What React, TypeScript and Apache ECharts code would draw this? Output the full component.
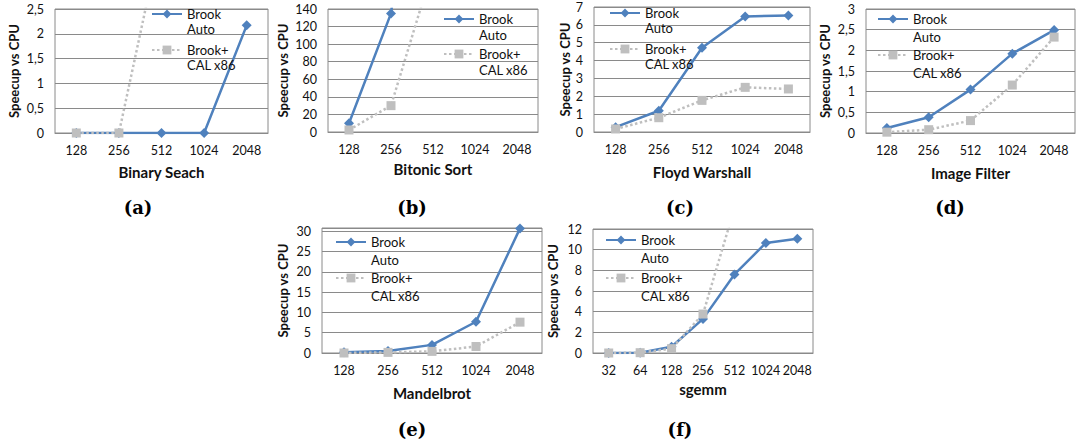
import React, { useEffect, useRef } from 'react';
import * as echarts from 'echarts';

// ---- data ----
const sizes5 = ['128', '256', '512', '1024', '2048'];
const sizesSgemm = ['32', '64', '128', '256', '512', '1024', '2048'];

const binaryAuto = [0, 0, 0, 0, 2.17];
const binaryCal = [0, 0, 4, 5, 6];
const bitonicAuto = [10, 135, 500, 900, 1500];
const bitonicCal = [2.3, 30, 187, 400, 800];
const floydAuto = [0.27, 1.19, 4.72, 6.47, 6.53];
const floydCal = [0.17, 0.8, 1.77, 2.5, 2.41];
const imageAuto = [0.12, 0.38, 1.05, 1.92, 2.49];
const imageCal = [0.02, 0.08, 0.3, 1.16, 2.32];
const mandelAuto = [0.16, 0.5, 2.0, 7.7, 30.7];
const mandelCal = [0.0, 0.15, 0.4, 1.6, 7.6];
const sgemmAuto = [0, 0.03, 0.6, 3.3, 7.6, 10.65, 11.06];
const sgemmCal = [0, 0.03, 0.42, 3.77, 14, 25, 40];

const seriesNames = ['Brook Auto', 'Brook+ CAL x86'];
const legendText: Record<string, string> = {
  'Brook Auto': '\nBrook\nAuto',
  'Brook+ CAL x86': '\nBrook+\nCAL x86',
};

// ---- layout ----
const panels = [
  { cats: sizes5, auto: binaryAuto, cal: binaryCal, title: 'Binary Seach', max: 2.5, interval: 0.5,
    grid: { left: 55, top: 9, width: 213, height: 124 }, yGap: 35, xGap: 31,
    leg: { left: 151, y1: 14, y2: 50, lh: 15 }, tag: '(a)', tagPos: [138, 207] },
  { cats: sizes5, auto: bitonicAuto, cal: bitonicCal, title: 'Bitonic Sort', max: 140, interval: 20,
    grid: { left: 328, top: 9, width: 210, height: 123 }, yGap: 39, xGap: 29,
    leg: { left: 443, y1: 19, y2: 54, lh: 16 }, tag: '(b)', tagPos: [412, 207] },
  { cats: sizes5, auto: floydAuto, cal: floydCal, title: 'Floyd Warshall', max: 7, interval: 1,
    grid: { left: 594, top: 7, width: 216, height: 125 }, yGap: 23, xGap: 32,
    leg: { left: 609, y1: 13, y2: 49, lh: 15 }, tag: '(c)', tagPos: [680, 207] },
  { cats: sizes5, auto: imageAuto, cal: imageCal, title: 'Image Filter', max: 3, interval: 0.5,
    grid: { left: 866, top: 9, width: 209, height: 124 }, yGap: 35, xGap: 32,
    leg: { left: 877, y1: 19, y2: 55, lh: 18 }, tag: '(d)', tagPos: [950, 207] },
  { cats: sizes5, auto: mandelAuto, cal: mandelCal, title: 'Mandelbrot', max: 30.8, interval: 5,
    grid: { left: 322, top: 228, width: 220, height: 125 }, yGap: 33, xGap: 32,
    leg: { left: 335, y1: 242, y2: 278, lh: 18 }, tag: '(e)', tagPos: [412, 429] },
  { cats: sizesSgemm, auto: sgemmAuto, cal: sgemmCal, title: 'sgemm', max: 12, interval: 2,
    grid: { left: 593, top: 229, width: 220, height: 124 }, yGap: 34, xGap: 28,
    leg: { left: 605, y1: 240, y2: 278, lh: 18 }, tag: '(f)', tagPos: [680, 429] },
];

const FONT = 'Lato, "Open Sans", sans-serif';
const GRID_COLOR = '#8a8a8a';
const BLUE = '#4F81BD';
const GRAY = '#BFBFBF';

function fmt(v: number, interval: number) {
  const k = Math.round(v / interval);
  if (Math.abs(v - k * interval) > 1e-9) return '';
  return String(+(k * interval).toFixed(3)).replace('.', ',');
}

export default function App() {
  const ref = useRef<HTMLDivElement>(null);
  useEffect(() => {
    if (!ref.current) return;
    const chart = echarts.init(ref.current, undefined, { renderer: 'svg' });
    const grid = panels.map((p) => ({
      ...p.grid,
      show: true,
      borderColor: GRID_COLOR,
      borderWidth: 1,
      containLabel: false,
      outerBoundsMode: 'none',
    }));
    const xAxis = panels.map((p, i) => ({
      type: 'category',
      gridIndex: i,
      data: p.cats,
      boundaryGap: true,
      axisTick: { show: false },
      axisLine: { lineStyle: { color: GRID_COLOR, width: 1 } },
      axisLabel: { color: '#111', fontSize: 12.5, margin: 11, fontFamily: FONT, interval: 0 },
      name: p.title,
      nameLocation: 'middle',
      nameGap: p.xGap,
      nameMoveOverlap: false,
      nameTextStyle: { color: '#111', fontSize: 15, fontWeight: 'bold', fontFamily: FONT },
    }));
    const yAxis = panels.map((p, i) => ({
      type: 'value',
      gridIndex: i,
      min: 0,
      max: p.max,
      interval: p.interval,
      axisLine: { show: false },
      axisTick: { show: false },
      splitLine: { lineStyle: { color: GRID_COLOR, width: 1 } },
      axisLabel: {
        color: '#111', fontSize: 12.5, margin: 11, fontFamily: FONT,
        formatter: (v: number) => fmt(v, p.interval),
      },
      name: 'Speecup vs CPU',
      nameLocation: 'middle',
      nameRotate: 90,
      nameGap: p.yGap,
      nameMoveOverlap: false,
      nameTextStyle: { color: '#111', fontSize: 13, fontWeight: 'bold', fontFamily: FONT },
    }));
    const series: any[] = [];
    panels.forEach((p, i) => {
      series.push({
        type: 'line', name: seriesNames[0], xAxisIndex: i, yAxisIndex: i, data: p.auto,
        symbol: 'diamond', symbolSize: 10, clip: true, z: 3,
        lineStyle: { color: BLUE, width: 2.5 }, itemStyle: { color: BLUE },
      });
      series.push({
        type: 'line', name: seriesNames[1], xAxisIndex: i, yAxisIndex: i, data: p.cal,
        symbol: 'rect', symbolSize: 9, clip: true, z: 4,
        lineStyle: { color: GRAY, width: 2.5, type: [2.5, 2.5] }, itemStyle: { color: GRAY },
      });
    });
    const legend: any[] = [];
    panels.forEach((p) => {
      [p.leg.y1, p.leg.y2].forEach((y, k) => {
        legend.push({
          data: [seriesNames[k]],
          left: p.leg.left,
          top: y - 1.5 * p.leg.lh,
          padding: 0,
          itemWidth: 30,
          itemHeight: 11,
          selectedMode: false,
          formatter: (n: string) => legendText[n] || n,
          textStyle: {
            color: '#111', fontSize: 13, fontFamily: FONT,
            lineHeight: p.leg.lh,
          },
        });
      });
    });
    const graphic = panels.map((p) => ({
      type: 'text',
      x: p.tagPos[0],
      y: p.tagPos[1],
      style: {
        text: p.tag,
        font: 'bold 18px "DejaVu Serif", serif',
        fill: '#000',
        align: 'center',
        verticalAlign: 'middle',
      },
    }));
    chart.setOption({
      animation: false,
      backgroundColor: '#fff',
      textStyle: { fontFamily: FONT },
      grid, xAxis, yAxis, series, legend, graphic,
    } as any);
    return () => chart.dispose();
  }, []);
  return (
    <div
      ref={ref}
      style={{ position: 'absolute', left: 0, top: 0, width: 1078, height: 440 }}
    />
  );
}
